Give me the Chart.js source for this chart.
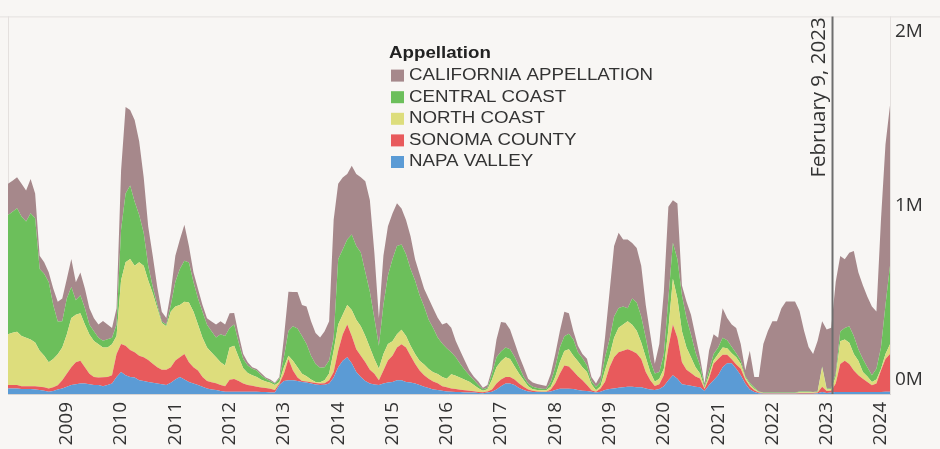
<!DOCTYPE html>
<html>
<head>
<meta charset="utf-8">
<script src="https://cdn.jsdelivr.net/npm/chart.js@4.4.1/dist/chart.umd.min.js"></script>
<style>
  html, body { margin: 0; padding: 0; background: #f8f6f4; }
  #wrap { width: 940px; height: 449px; }
</style>
</head>
<body>
<div id="wrap"><canvas id="chart" width="940" height="449"></canvas></div>
<script>
// monthly periods, Dec 2007 .. Mar 2024
const months = [];
for (let i = 0; i < 196; i++) {
    const y = 2007 + Math.floor((11 + i) / 12);
    const m = (11 + i) % 12 + 1;
    months.push(y + '-' + String(m).padStart(2, '0'));
}
const yearTicks = ['2009', '2010', '2011', '2012', '2013', '2014', '2015', '2016',
                   '2017', '2018', '2019', '2020', '2021', '2022', '2023', '2024'];
const yTickValues = [0, 1000, 2000];
const markerLabel = 'February 9, 2023';
const markerIndex = 182.29; // Feb 9, 2023 on the month axis

// values in thousands, one per month
const napaValley = [
    32,32,32,28,28,28,26,23,19,13,17,26,32,41,51,56,60,60,56,51,51,45,51,60,
    98,126,107,98,94,79,75,69,64,60,56,51,64,83,98,83,69,60,51,41,32,26,23,17,13,
    13,13,13,13,13,13,13,11,11,9,8,51,75,79,79,75,69,66,60,54,51,53,60,94,
    154,191,210,176,126,98,75,60,54,51,60,66,69,79,79,69,66,60,51,41,34,26,23,19,15,
    13,11,11,9,8,8,6,4,8,13,26,45,60,60,51,34,23,15,11,11,11,11,15,23,30,
    30,30,28,23,19,17,13,9,13,23,28,32,36,38,41,41,39,38,32,26,23,28,45,79,
    107,88,56,51,47,41,38,17,51,79,107,154,176,176,145,107,60,26,11,4,2,2,2,2,2,
    2,2,2,2,2,2,2,4,11,6,8,11,11,11,11,11,11,11,11,11,11,11,13,13
];
const sonomaCounty = [
    19,19,19,17,17,17,19,19,19,19,21,24,47,75,103,126,131,94,60,47,43,51,47,47,
    131,160,169,154,145,141,135,126,109,94,83,88,90,109,113,146,113,94,84,56,43,41,38,34,32,
    69,73,62,47,39,34,28,26,23,21,15,9,41,122,56,19,6,6,8,9,9,9,19,32,
    94,150,188,156,131,122,107,79,62,28,75,126,150,188,206,197,154,113,84,66,54,45,38,26,23,
    19,17,13,13,11,8,6,6,6,13,34,38,38,38,32,26,19,11,8,4,2,2,11,38,86,
    133,128,103,79,60,34,9,4,19,47,126,178,203,210,216,206,193,163,94,53,23,28,62,188,
    291,235,126,88,73,60,51,11,38,94,94,71,49,23,24,38,23,19,11,4,2,2,2,2,2,
    2,2,2,4,4,4,4,4,30,11,11,49,161,180,161,124,96,77,58,39,49,124,188,216
];
const northCoast = [
    291,300,306,287,278,268,250,206,182,150,163,178,188,225,282,272,272,244,225,206,191,171,169,178,
    103,366,479,522,497,535,526,456,404,338,268,250,319,310,300,300,343,319,263,225,191,171,150,131,118,
    184,190,135,88,68,60,56,45,38,34,28,9,38,19,56,60,41,30,15,6,8,17,38,122,
    150,113,113,150,169,169,150,128,84,66,94,94,84,75,84,66,56,56,56,62,56,54,53,53,49,
    81,77,69,60,51,36,21,8,13,56,94,105,113,103,75,56,38,19,8,8,8,8,15,38,66,
    84,99,88,86,75,75,34,9,13,66,66,113,141,150,160,150,131,94,84,47,24,32,38,103,
    263,225,178,128,90,53,28,8,19,19,28,41,38,34,41,28,11,11,8,4,2,2,2,2,2,
    2,2,2,4,4,4,4,4,113,9,8,38,131,122,122,94,84,38,32,19,23,9,28,56
];
const centralCoast = [
    685,694,708,685,666,723,713,469,469,460,310,188,150,206,178,84,103,94,56,56,38,38,47,38,
    66,291,394,422,366,272,188,84,38,19,9,9,38,141,206,235,229,169,150,150,131,122,113,160,169,
    113,122,84,53,43,38,38,24,15,11,9,19,56,141,197,221,216,184,137,103,83,75,75,75,
    375,375,375,432,422,422,366,319,235,131,282,394,469,507,488,469,441,422,375,332,282,253,210,191,176,
    126,105,79,56,38,28,19,9,9,34,56,56,56,56,56,41,19,15,15,11,9,8,28,56,84,
    84,88,94,51,53,38,17,19,24,75,94,122,113,103,75,150,161,150,113,66,47,38,84,178,
    206,225,206,169,131,84,47,9,28,38,38,56,45,38,23,19,8,8,8,2,2,2,2,2,2,
    2,2,2,4,4,4,2,4,4,6,6,19,56,66,94,103,66,75,53,38,62,122,282,450
];
const californiaAppellation = [
    178,178,178,188,178,197,141,75,66,56,94,113,131,113,160,103,131,113,94,75,75,113,84,56,
    94,338,497,432,469,422,319,225,178,103,56,38,75,150,169,206,94,56,56,38,38,56,75,75,66,
    84,66,47,28,19,9,9,13,8,8,4,9,113,225,197,210,178,216,197,178,173,206,225,676,
    432,413,375,394,413,432,522,526,375,160,282,282,263,244,206,197,188,122,122,103,122,113,113,109,145,
    141,94,75,53,28,19,19,9,15,28,103,169,141,113,81,62,56,28,24,23,21,17,47,75,94,
    141,118,47,38,23,38,24,19,38,113,272,404,432,385,394,319,313,291,188,150,56,160,357,526,
    244,319,56,94,113,94,47,15,113,113,56,169,128,128,146,94,34,184,60,84,278,353,409,409,484,
    522,522,522,462,349,255,218,289,259,338,347,526,432,394,422,488,441,422,404,394,328,732,920,920
];

const series = [
    { label: 'NAPA VALLEY', data: napaValley, color: '#5b9bd5' },
    { label: 'SONOMA COUNTY', data: sonomaCounty, color: '#e85a5c' },
    { label: 'NORTH COAST', data: northCoast, color: '#dddd7c' },
    { label: 'CENTRAL COAST', data: centralCoast, color: '#6cbf5b' },
    { label: 'CALIFORNIA APPELLATION', data: californiaAppellation, color: '#a6888b' }
];

const textColor = '#333333';

// background, pane frame
const framePlugin = {
    id: 'frame',
    beforeDraw(chart) {
        const { ctx, chartArea } = chart;
        ctx.save();
        ctx.fillStyle = '#f8f6f4';
        ctx.fillRect(0, 0, chart.width, chart.height);
        ctx.strokeStyle = '#e4e0de';
        ctx.lineWidth = 1;
        ctx.beginPath();
        ctx.moveTo(0, chartArea.top + 0.5);
        ctx.lineTo(chart.width, chartArea.top + 0.5);
        ctx.moveTo(chartArea.left + 0.5, chartArea.top);
        ctx.lineTo(chartArea.left + 0.5, chartArea.bottom);
        ctx.moveTo(chartArea.right + 0.5, chartArea.top);
        ctx.lineTo(chartArea.right + 0.5, chartArea.bottom);
        ctx.stroke();
        ctx.restore();
    }
};

// date marker line with rotated caption
const markerPlugin = {
    id: 'marker',
    afterDatasetsDraw(chart) {
        const { ctx, chartArea } = chart;
        const x = chart.scales.x.getPixelForValue(markerIndex);
        ctx.save();
        ctx.strokeStyle = '#6e6e6e';
        ctx.lineWidth = 2;
        ctx.beginPath();
        ctx.moveTo(x, chartArea.top);
        ctx.lineTo(x, chartArea.bottom);
        ctx.stroke();
        ctx.translate(x - 13, chartArea.top + 1);
        ctx.rotate(-Math.PI / 2);
        ctx.fillStyle = textColor;
        ctx.font = '20.5px "Open Sans"';
        ctx.textAlign = 'right';
        ctx.textBaseline = 'middle';
        ctx.fillText(markerLabel, 0, 0);
        ctx.restore();
    }
};

// legend block inside the plot
const legendPlugin = {
    id: 'appLegend',
    afterDraw(chart) {
        const { ctx } = chart;
        const left = 389, top = 54, row = 21.6, stretch = 1.17;
        ctx.save();
        ctx.fillStyle = '#222';
        ctx.textBaseline = 'middle';
        ctx.save();
        ctx.translate(left, top);
        ctx.scale(stretch, 1);
        ctx.font = 'bold 16px "Liberation Sans"';
        ctx.fillText('Appellation', 0, 0);
        ctx.restore();
        const items = chart.data.datasets.slice().reverse();
        items.forEach((ds, i) => {
            const y = top + row * (i + 1);
            ctx.fillStyle = ds.backgroundColor;
            ctx.fillRect(left + 2, y - 6, 13, 12);
            ctx.save();
            ctx.translate(left + 20, y);
            ctx.scale(stretch, 1);
            ctx.fillStyle = textColor;
            ctx.font = '16px "Liberation Sans"';
            ctx.fillText(ds.label, 0, 0);
            ctx.restore();
        });
        ctx.restore();
    }
};

new Chart(document.getElementById('chart'), {
    type: 'line',
    data: {
        labels: months,
        datasets: series.map((s, i) => ({
            label: s.label,
            data: s.data,
            backgroundColor: s.color,
            borderColor: s.color,
            borderWidth: 0,
            pointRadius: 0,
            fill: i === 0 ? 'origin' : '-1'
        }))
    },
    options: {
        responsive: false,
        animation: false,
        layout: { padding: { left: 8, top: 10, right: 0, bottom: 0 } },
        plugins: { legend: { display: false }, tooltip: { enabled: false } },
        elements: { line: { tension: 0 } },
        scales: {
            x: {
                type: 'category',
                offset: false,
                grid: { display: false, drawTicks: false },
                border: { display: true, color: '#d8d4d2' },
                ticks: {
                    autoSkip: false,
                    minRotation: 90,
                    maxRotation: 90,
                    padding: 8,
                    color: textColor,
                    font: { family: 'Open Sans', size: 19 },
                    callback: function (v) {
                        const lab = this.getLabelForValue(v);
                        const yr = lab.slice(0, 4);
                        return lab.endsWith('-01') && yearTicks.includes(yr) ? yr : null;
                    }
                },
                afterFit: s => { s.height = 55; }
            },
            y: {
                position: 'right',
                stacked: true,
                min: 0,
                max: 2165,
                grid: { display: false, drawTicks: false },
                border: { display: false },
                afterBuildTicks: s => { s.ticks = yTickValues.map(v => ({ value: v })); },
                ticks: {
                    padding: 5,
                    labelOffset: -14,
                    color: textColor,
                    font: { family: 'Open Sans', size: 19 },
                    callback: v => (v / 1000) + 'M'
                },
                afterFit: s => { s.width = 50; }
            }
        }
    },
    plugins: [framePlugin, markerPlugin, legendPlugin]
});
</script>
</body>
</html>
